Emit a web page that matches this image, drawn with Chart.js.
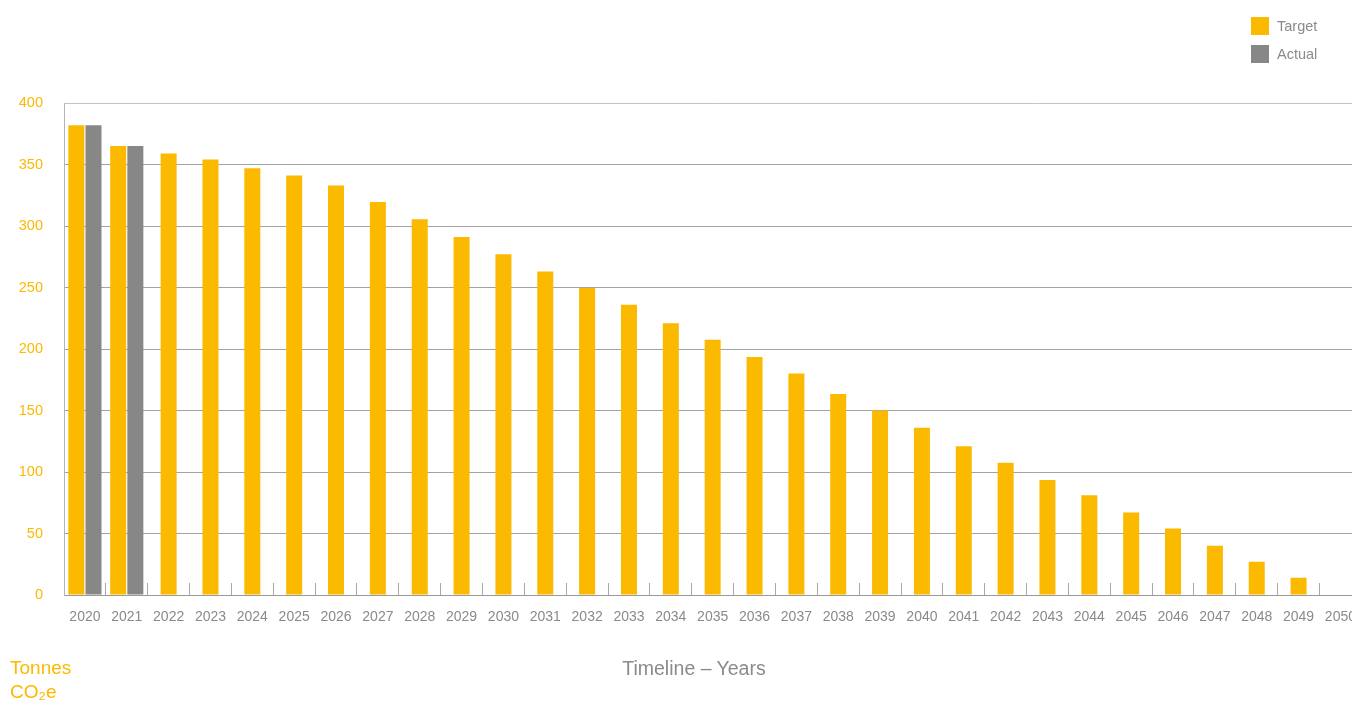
<!DOCTYPE html>
<html>
<head>
<meta charset="utf-8">
<script src="https://cdn.jsdelivr.net/npm/chart.js@4.4.0/dist/chart.umd.min.js"></script>
<style>
    html, body { margin: 0; padding: 0; background: #fff; overflow: hidden; }
    #wrap { position: relative; width: 1382px; height: 702px; }
    #legend { position: absolute; left: 1251px; top: 17px; font-family: "Liberation Sans", Arial, sans-serif; font-size: 14.5px; color: #8a8a8a; }
    #legend div { display: flex; align-items: center; height: 18px; margin-bottom: 10px; }
    #legend span.box { display: inline-block; width: 18px; height: 18px; margin-right: 8px; }
    #unit { position: absolute; left: 10px; top: 656px; font-family: "Liberation Sans", Arial, sans-serif; font-size: 19px; line-height: 24px; color: #FBB900; }
    #xtitle { position: absolute; left: 594px; width: 200px; top: 656px; text-align: center; font-family: "Liberation Sans", Arial, sans-serif; font-size: 19.5px; line-height: 24px; color: #8a8a8a; }
</style>
</head>
<body>
<div id="wrap">
    <canvas id="emissionsChart" width="1382" height="702"></canvas>
    <div id="legend"></div>
    <div id="xtitle">Timeline – Years</div>
    <div id="unit">Tonnes<br>CO₂e</div>
</div>
<script>
const years = ["2020", "2021", "2022", "2023", "2024", "2025", "2026", "2027", "2028", "2029",
    "2030", "2031", "2032", "2033", "2034", "2035", "2036", "2037", "2038", "2039",
    "2040", "2041", "2042", "2043", "2044", "2045", "2046", "2047", "2048", "2049", "2050"];

const targetValues = [382, 365, 359, 354, 347, 341, 333, 319.5, 305.5, 291,
    277, 263, 249.5, 236, 221, 207.5, 193.5, 180, 163.5, 150,
    136, 121, 107.5, 93.5, 81, 67, 54, 40, 27, 14, 0.5];

const actualValues = [382, 365];

const yTicks = [0, 50, 100, 150, 200, 250, 300, 350, 400];

const TARGET_COLOR = "#FBB900";
const ACTUAL_COLOR = "#878787";
const FONT = "'Liberation Sans', Arial, sans-serif";

const datasets = [
    { label: "Target", data: targetValues, backgroundColor: TARGET_COLOR },
    { label: "Actual", data: years.map((y, i) => (i < actualValues.length ? actualValues[i] : null)), backgroundColor: ACTUAL_COLOR },
];

// simple legend top right, stacked vertically
const legendEl = document.getElementById("legend");
datasets.forEach((ds) => {
    const row = document.createElement("div");
    row.innerHTML = '<span class="box" style="background:' + ds.backgroundColor + '"></span>' + ds.label;
    legendEl.appendChild(row);
});

const ctx = document.getElementById("emissionsChart").getContext("2d");

new Chart(ctx, {
    type: "bar",
    data: {
        labels: years,
        datasets: datasets,
    },
    options: {
        responsive: false,
        animation: false,
        skipNull: true,
        categoryPercentage: 0.82,
        barPercentage: 1,
        maxBarThickness: 16,
        layout: {
            padding: { top: 103, left: 0, right: 0, bottom: 0 },
        },
        plugins: {
            legend: { display: false },
            tooltip: { enabled: false },
        },
        scales: {
            x: {
                afterFit: (scale) => { scale.height = 107; },
                grid: {
                    display: true,
                    drawOnChartArea: false,
                    drawTicks: true,
                    tickLength: -12,
                    tickColor: "#a8a8a8",
                    tickWidth: 1,
                },
                border: { display: true, color: "#999999" },
                ticks: {
                    color: "#8a8a8a",
                    font: { family: FONT, size: 14 },
                    padding: 26,
                    maxRotation: 0,
                    autoSkip: false,
                },
            },
            y: {
                min: 0,
                max: 400,
                afterFit: (scale) => { scale.width = 64; },
                afterBuildTicks: (scale) => { scale.ticks = yTicks.map((v) => ({ value: v })); },
                grid: {
                    drawTicks: false,
                    color: (c) => (c.tick && c.tick.value === 400 ? "#c4c4c4" : "#a3a3a3"),
                },
                border: { display: true, color: "#b4b4b4" },
                ticks: {
                    color: TARGET_COLOR,
                    font: { family: FONT, size: 14.5 },
                    padding: 21,
                },
            },
        },
    },
});
</script>
</body>
</html>
